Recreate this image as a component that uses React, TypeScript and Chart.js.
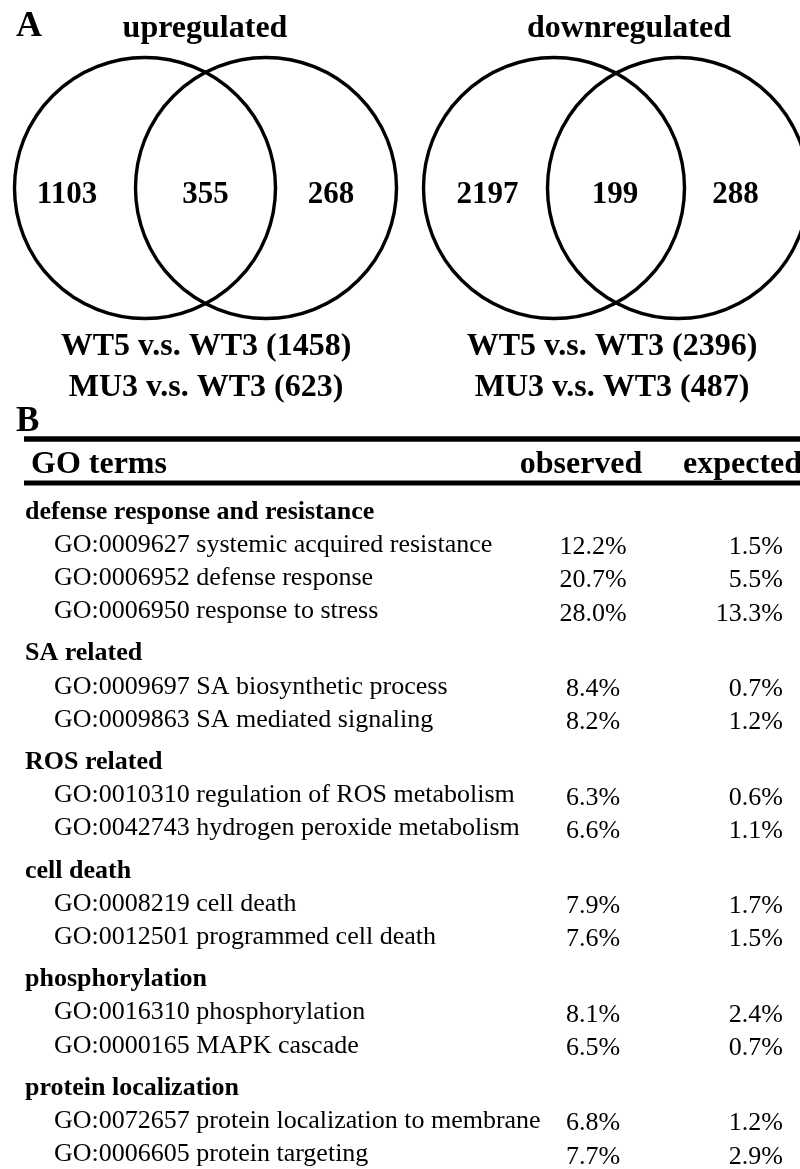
import React, { useEffect, useRef } from 'react';
import { Chart, registerables } from 'chart.js';

Chart.register(...registerables);

// ---------- data ----------
const vennTitles = ['upregulated', 'downregulated'];
const onlyWT5 = [1103, 2197];
const sharedGenes = [355, 199];
const onlyMU3 = [268, 288];
const comparisonNames = ['WT5 v.s. WT3', 'MU3 v.s. WT3'];
const totalWT5 = [1458, 2396];
const totalMU3 = [623, 487];

const columnHeaders = ['GO terms', 'observed', 'expected'];
const groupNames = [
  'defense response and resistance',
  'SA related',
  'ROS related',
  'cell death',
  'phosphorylation',
  'protein localization',
];
const termGroup = [0, 0, 0, 1, 1, 2, 2, 3, 3, 4, 4, 5, 5];
const goIds = [
  'GO:0009627', 'GO:0006952', 'GO:0006950',
  'GO:0009697', 'GO:0009863',
  'GO:0010310', 'GO:0042743',
  'GO:0008219', 'GO:0012501',
  'GO:0016310', 'GO:0000165',
  'GO:0072657', 'GO:0006605',
];
const goNames = [
  'systemic acquired resistance', 'defense response', 'response to stress',
  'SA biosynthetic process', 'SA mediated signaling',
  'regulation of ROS metabolism', 'hydrogen peroxide metabolism',
  'cell death', 'programmed cell death',
  'phosphorylation', 'MAPK cascade',
  'protein localization to membrane', 'protein targeting',
];
const observedPct = [12.2, 20.7, 28.0, 8.4, 8.2, 6.3, 6.6, 7.9, 7.6, 8.1, 6.5, 6.8, 7.7];
const expectedPct = [1.5, 5.5, 13.3, 0.7, 1.2, 0.6, 1.1, 1.7, 1.5, 2.4, 0.7, 1.2, 2.9];

// ---------- layout (in layout units, 1 unit = 1 px) ----------
const W = 800;
const H = 1169;
const SERIF = '"Liberation Serif", "Times New Roman", serif';
const VENN_CX = [205.5, 616];
const VENN_HALF_SEP = [60.5, 62];
const VENN_CY = 188;
const VENN_R = 130.5;
const TITLE_X = [205, 629];
const COUNT_DX = [[-138.5, 0, 125.5], [-128.5, -1, 119.5]];
const COUNT_Y = 203;
const CMP_X = [206, 612];
const CMP_Y = [355, 396];
const TABLE_TOP = 518.5;
const ROW_STEP = 33.2;
const GROUP_GAP = 9;
const VALUE_DY = 2.5;
const LINE_Y = [439, 483];
const LINE_X0 = 24;
const HEADER_Y = 473;
const GROUP_X = 25;
const TERM_X = 54;
const OBS_X = 593;
const EXP_X = 783;

const bold = (px: number) => `bold ${px}px ${SERIF}`;
const regular = (px: number) => `${px}px ${SERIF}`;

function textDataset(points: { x: number; y: number }[], texts: string[], font: string, align: string) {
  return {
    type: 'scatter',
    data: points,
    texts,
    textFont: font,
    textAlign: align,
    pointRadius: 0,
    pointHoverRadius: 0,
    showLine: false,
    clip: false,
  } as any;
}

function buildDatasets() {
  const ds: any[] = [];

  // Venn circles
  const circles: any[] = [];
  VENN_CX.forEach((cx, d) => {
    circles.push({ x: cx - VENN_HALF_SEP[d], y: VENN_CY, r: VENN_R });
    circles.push({ x: cx + VENN_HALF_SEP[d], y: VENN_CY, r: VENN_R });
  });
  ds.push({
    type: 'bubble',
    data: circles,
    backgroundColor: 'rgba(0,0,0,0)',
    borderColor: '#000',
    borderWidth: 3.4,
    hoverBorderWidth: 3.4,
    clip: false,
  });

  // Panel letters
  ds.push(textDataset([{ x: 16, y: 36 }], ['A'], bold(36), 'left'));
  ds.push(textDataset([{ x: 16, y: 431 }], ['B'], bold(35), 'left'));

  // Venn titles
  ds.push(textDataset(vennTitles.map((_, d) => ({ x: TITLE_X[d], y: 37 })), vennTitles, bold(32), 'center'));

  // Venn counts
  const cPts: any[] = [];
  const cTxt: string[] = [];
  VENN_CX.forEach((cx, d) => {
    [onlyWT5[d], sharedGenes[d], onlyMU3[d]].forEach((v, k) => {
      cPts.push({ x: cx + COUNT_DX[d][k], y: COUNT_Y });
      cTxt.push(String(v));
    });
  });
  ds.push(textDataset(cPts, cTxt, bold(31), 'center'));

  // Comparison labels
  const mPts: any[] = [];
  const mTxt: string[] = [];
  VENN_CX.forEach((_, d) => {
    mPts.push({ x: CMP_X[d], y: CMP_Y[0] });
    mTxt.push(`${comparisonNames[0]} (${totalWT5[d]})`);
    mPts.push({ x: CMP_X[d], y: CMP_Y[1] });
    mTxt.push(`${comparisonNames[1]} (${totalMU3[d]})`);
  });
  ds.push(textDataset(mPts, mTxt, bold(32), 'center'));

  // Table rules
  LINE_Y.forEach((y, k) => {
    ds.push({
      type: 'line',
      data: [{ x: LINE_X0, y }, { x: W, y }],
      borderColor: '#000',
      borderWidth: k === 0 ? 5.5 : 5,
      pointRadius: 0,
      borderCapStyle: 'butt',
      clip: false,
    });
  });

  // Table header
  ds.push(textDataset([{ x: 31, y: HEADER_Y }], [columnHeaders[0]], bold(32), 'left'));
  ds.push(textDataset([{ x: 581, y: HEADER_Y }], [columnHeaders[1]], bold(32), 'center'));
  ds.push(textDataset([{ x: 683, y: HEADER_Y }], [columnHeaders[2]], bold(32), 'left'));

  // Table rows
  const gPts: any[] = [];
  const tPts: any[] = [];
  const tTxt: string[] = [];
  const oPts: any[] = [];
  const oTxt: string[] = [];
  const ePts: any[] = [];
  const eTxt: string[] = [];
  let n = 0;
  groupNames.forEach((_, g) => {
    gPts.push({ x: GROUP_X, y: TABLE_TOP + ROW_STEP * n + GROUP_GAP * g });
    n++;
    goIds.forEach((id, i) => {
      if (termGroup[i] !== g) return;
      const y = TABLE_TOP + ROW_STEP * n + GROUP_GAP * g;
      tPts.push({ x: TERM_X, y });
      tTxt.push(`${id} ${goNames[i]}`);
      oPts.push({ x: OBS_X, y: y + VALUE_DY });
      oTxt.push(`${observedPct[i].toFixed(1)}%`);
      ePts.push({ x: EXP_X, y: y + VALUE_DY });
      eTxt.push(`${expectedPct[i].toFixed(1)}%`);
      n++;
    });
  });
  ds.push(textDataset(gPts, groupNames, bold(26), 'left'));
  ds.push(textDataset(tPts, tTxt, regular(26), 'left'));
  ds.push(textDataset(oPts, oTxt, regular(26), 'center'));
  ds.push(textDataset(ePts, eTxt, regular(26), 'right'));

  return ds;
}

const textPlugin = {
  id: 'figureText',
  afterDatasetsDraw(chart: any) {
    const ctx = chart.ctx;
    chart.data.datasets.forEach((ds: any, i: number) => {
      if (!ds.texts) return;
      const meta = chart.getDatasetMeta(i);
      ctx.save();
      ctx.fillStyle = '#000';
      ctx.font = ds.textFont;
      ctx.textAlign = ds.textAlign;
      ctx.textBaseline = 'alphabetic';
      meta.data.forEach((el: any, k: number) => {
        ctx.fillText(ds.texts[k], el.x, el.y);
      });
      ctx.restore();
    });
  },
};

export default function App() {
  const ref = useRef<HTMLCanvasElement | null>(null);

  useEffect(() => {
    if (!ref.current) return;
    const chart = new Chart(ref.current, {
      type: 'scatter',
      data: { datasets: buildDatasets() },
      options: {
        animation: false,
        responsive: false,
        devicePixelRatio: 1,
        events: [],
        layout: { padding: 0, autoPadding: false },
        plugins: { legend: { display: false }, tooltip: { enabled: false } },
        scales: {
          x: { type: 'linear', min: 0, max: W, display: false },
          y: { type: 'linear', min: 0, max: H, reverse: true, display: false },
        },
      } as any,
      plugins: [textPlugin],
    } as any);
    return () => chart.destroy();
  }, []);

  return (
    <div style={{ position: 'absolute', left: 0, top: 0, width: W, height: H, background: '#fff' }}>
      <canvas ref={ref} width={W} height={H} style={{ display: 'block' }} />
    </div>
  );
}
